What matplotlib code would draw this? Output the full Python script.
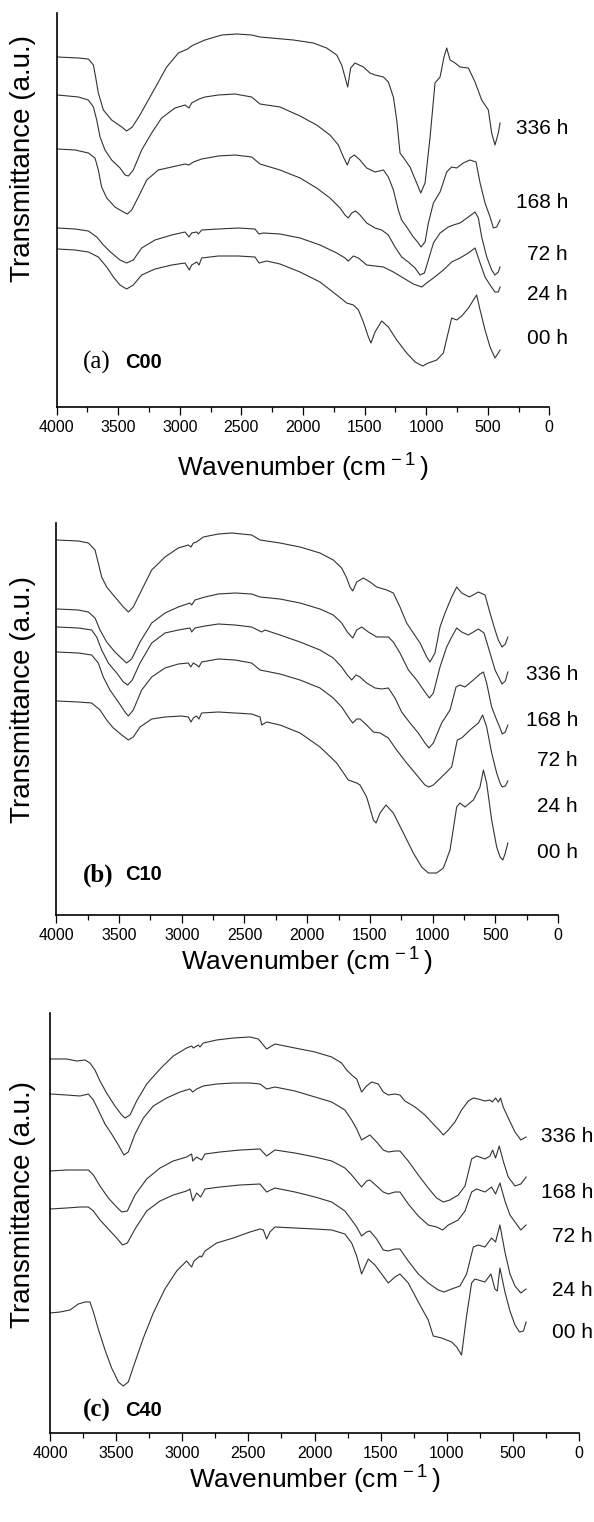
import matplotlib
matplotlib.use("Agg")
import matplotlib.pyplot as plt
from matplotlib.ticker import MultipleLocator

plt.rcParams['font.family'] = ['Liberation Sans', 'DejaVu Sans']
plt.rcParams['mathtext.fontset'] = 'custom'
plt.rcParams['mathtext.rm'] = 'Liberation Sans'
plt.rcParams['mathtext.it'] = 'Liberation Sans:italic'

HOURS = ['336 h', '168 h', '72 h', '24 h', '00 h']

# ---- (a) C00 ----
wn_a336 = [3992, 3824, 3743, 3702, 3684, 3662, 3621, 3554, 3472, 3432, 3386, 3324, 3256, 3188, 3107, 3012, 2936, 2917,
           2890, 2796, 2660, 2538, 2417, 2349, 2078, 1916, 1808, 1726, 1686, 1659, 1637, 1613, 1578, 1510, 1456, 1415,
           1347, 1307, 1266, 1239, 1212, 1171, 1131, 1077, 1044, 1009, 968, 928, 887, 855, 833, 806, 765, 725, 657,
           603, 549, 495, 468, 441, 414, 400]
t_a336 = [350, 349, 348, 342, 330, 314, 297, 287, 280, 276, 280, 292, 307, 322, 340, 354, 358, 360, 362, 367, 372, 373,
          372, 370, 367, 364, 359, 352, 342, 330, 320, 339, 344, 340, 334, 332, 330, 325, 310, 287, 254, 247, 240, 224,
          214, 224, 270, 324, 330, 350, 359, 347, 344, 340, 339, 325, 307, 297, 274, 262, 274, 284]
wn_a168 = [3992, 3824, 3743, 3702, 3675, 3648, 3608, 3554, 3486, 3445, 3418, 3378, 3310, 3229, 3148, 3039, 2958, 2926,
           2904, 2844, 2796, 2687, 2552, 2417, 2349, 2187, 2024, 1889, 1781, 1713, 1672, 1640, 1618, 1583, 1537, 1483,
           1415, 1347, 1307, 1266, 1226, 1199, 1158, 1104, 1063, 1042, 1009, 982, 941, 887, 833, 793, 752, 698, 644,
           595, 562, 522, 481, 454, 427, 400]
t_a168 = [312, 310, 307, 300, 287, 270, 257, 247, 239, 232, 231, 237, 257, 274, 289, 299, 302, 299, 304, 308, 310, 312,
          313, 310, 303, 300, 291, 282, 272, 262, 250, 242, 249, 252, 247, 239, 235, 237, 230, 217, 197, 187, 180, 170,
          164, 160, 165, 184, 204, 215, 235, 240, 239, 244, 247, 245, 224, 204, 190, 179, 180, 187]
wn_a72 = [3992, 3851, 3743, 3689, 3662, 3635, 3594, 3527, 3459, 3426, 3391, 3337, 3269, 3175, 3066, 2958, 2926, 2890,
          2823, 2687, 2552, 2417, 2349, 2187, 2024, 1889, 1781, 1699, 1659, 1632, 1605, 1572, 1537, 1483, 1415, 1361,
          1307, 1253, 1199, 1145, 1090, 1050, 1014, 982, 941, 887, 820, 779, 725, 657, 603, 576, 549, 508, 468, 441,
          414, 400]
t_a72 = [258, 257, 254, 249, 237, 220, 209, 200, 195, 193, 197, 210, 227, 237, 240, 243, 242, 245, 248, 251, 252, 250,
         243, 237, 229, 219, 209, 199, 192, 189, 194, 196, 192, 184, 179, 177, 172, 160, 150, 145, 139, 132, 134, 147,
         164, 174, 180, 182, 184, 190, 195, 189, 170, 150, 137, 132, 135, 140]
wn_a24 = [3992, 3851, 3743, 3675, 3621, 3554, 3486, 3432, 3378, 3310, 3202, 3066, 2958, 2926, 2904, 2863, 2850, 2823,
          2687, 2525, 2390, 2357, 2322, 2187, 2024, 1862, 1726, 1659, 1632, 1591, 1550, 1483, 1415, 1347, 1266, 1185,
          1104, 1036, 996, 941, 860, 793, 725, 657, 603, 562, 522, 481, 441, 414, 400]
t_a24 = [179, 178, 176, 170, 162, 154, 147, 144, 147, 159, 167, 172, 175, 170, 174, 175, 173, 177, 178, 179, 178, 173,
         174, 173, 169, 162, 154, 149, 146, 151, 149, 142, 141, 140, 135, 129, 123, 120, 124, 129, 137, 145, 149, 154,
         159, 144, 130, 122, 115, 115, 120]
wn_a00 = [3992, 3851, 3743, 3662, 3594, 3540, 3486, 3432, 3378, 3310, 3202, 3066, 2958, 2923, 2904, 2863, 2844, 2823,
          2687, 2525, 2390, 2357, 2295, 2187, 2024, 1862, 1726, 1645, 1591, 1550, 1510, 1469, 1448, 1415, 1361, 1307,
          1239, 1158, 1090, 1028, 982, 914, 860, 793, 752, 711, 657, 590, 562, 522, 481, 441, 414, 400]
t_a00 = [158, 157, 155, 150, 140, 130, 122, 118, 122, 132, 138, 142, 144, 137, 142, 145, 142, 149, 151, 151, 150, 144,
         146, 143, 135, 125, 112, 104, 102, 97, 85, 70, 64, 75, 86, 80, 67, 54, 45, 41, 44, 47, 54, 89, 87, 91, 99,
         112, 97, 77, 60, 49, 54, 57]

# ---- (b) C10 ----
wn_b336 = [3995, 3825, 3745, 3692, 3666, 3639, 3599, 3533, 3466, 3426, 3387, 3320, 3240, 3134, 3028, 2948, 2927, 2908,
           2882, 2828, 2709, 2602, 2443, 2376, 2217, 2057, 1898, 1792, 1725, 1685, 1659, 1637, 1605, 1552, 1499, 1446,
           1366, 1313, 1260, 1207, 1154, 1100, 1047, 1021, 981, 941, 901, 848, 808, 768, 707, 635, 582, 542, 502, 476,
           447, 420, 400]
t_b336 = [375, 374, 372, 365, 352, 338, 328, 318, 308, 303, 308, 325, 345, 358, 367, 370, 368, 372, 373, 378, 381, 382,
          380, 375, 372, 368, 362, 355, 347, 337, 328, 324, 333, 337, 333, 328, 325, 322, 308, 292, 282, 272, 258, 253,
          262, 288, 302, 318, 328, 322, 318, 323, 320, 302, 285, 275, 268, 271, 278]
wn_b168 = [3995, 3825, 3745, 3692, 3652, 3599, 3533, 3466, 3440, 3400, 3333, 3240, 3134, 3028, 2935, 2921, 2895, 2815,
           2709, 2576, 2443, 2376, 2217, 2057, 1898, 1792, 1725, 1680, 1637, 1605, 1566, 1512, 1446, 1393, 1353, 1313,
           1260, 1193, 1127, 1061, 1026, 994, 941, 888, 848, 808, 768, 715, 675, 635, 590, 542, 502, 462, 447, 420, 400]
t_b168 = [306, 305, 303, 297, 285, 273, 263, 255, 252, 256, 273, 292, 302, 308, 312, 310, 315, 318, 321, 322, 321, 318,
          316, 312, 306, 300, 292, 283, 277, 285, 288, 283, 278, 278, 278, 273, 262, 245, 235, 223, 217, 222, 248, 268,
          278, 287, 283, 280, 283, 286, 282, 262, 245, 235, 231, 234, 243]
wn_b72 = [3995, 3825, 3719, 3679, 3639, 3586, 3519, 3466, 3432, 3395, 3333, 3240, 3134, 3028, 2935, 2921, 2895, 2815,
          2709, 2576, 2443, 2363, 2337, 2217, 2057, 1898, 1792, 1725, 1680, 1645, 1611, 1579, 1526, 1459, 1406, 1353,
          1300, 1247, 1180, 1114, 1061, 1029, 994, 928, 861, 813, 782, 742, 675, 622, 595, 569, 529, 489, 462, 445,
          420, 400]
t_b72 = [288, 287, 285, 278, 265, 252, 242, 233, 230, 235, 252, 272, 282, 285, 287, 283, 287, 289, 291, 290, 288, 283,
         285, 280, 273, 265, 257, 248, 240, 235, 240, 238, 232, 227, 226, 227, 217, 203, 192, 182, 172, 167, 172, 192,
         205, 228, 230, 228, 235, 241, 243, 232, 208, 195, 187, 181, 183, 190]
wn_b24 = [3995, 3825, 3719, 3666, 3626, 3573, 3506, 3453, 3426, 3387, 3320, 3240, 3134, 3028, 2948, 2929, 2908, 2882,
          2863, 2842, 2709, 2576, 2443, 2376, 2217, 2057, 1898, 1792, 1725, 1672, 1637, 1605, 1579, 1526, 1472, 1419,
          1353, 1287, 1207, 1127, 1061, 1029, 994, 928, 848, 803, 768, 702, 635, 601, 569, 529, 489, 462, 445, 420, 400]
t_b24 = [263, 262, 260, 252, 238, 225, 213, 203, 199, 205, 225, 238, 247, 251, 252, 248, 252, 250, 248, 253, 256, 255,
         252, 245, 241, 235, 227, 217, 208, 198, 192, 196, 196, 190, 183, 182, 177, 165, 152, 140, 130, 128, 130, 138,
         148, 175, 177, 185, 192, 200, 188, 162, 142, 132, 128, 129, 134]
wn_b00 = [3995, 3825, 3719, 3652, 3599, 3546, 3479, 3426, 3387, 3333, 3240, 3134, 3001, 2948, 2927, 2908, 2882, 2863,
          2842, 2709, 2576, 2443, 2376, 2363, 2323, 2217, 2057, 1898, 1765, 1672, 1605, 1579, 1526, 1472, 1451, 1419,
          1372, 1313, 1233, 1154, 1087, 1034, 968, 914, 861, 808, 782, 742, 675, 622, 595, 569, 529, 489, 462, 440,
          420, 400]
t_b00 = [214, 213, 212, 205, 195, 187, 180, 175, 178, 188, 196, 198, 199, 198, 193, 197, 199, 196, 202, 203, 202, 201,
         198, 190, 193, 190, 182, 168, 152, 135, 132, 130, 118, 95, 92, 102, 110, 102, 82, 62, 48, 42, 42, 47, 65, 108,
         112, 108, 115, 128, 145, 132, 95, 68, 58, 55, 62, 72]

# ---- (c) C40 ----
wn_c336 = [4000, 3874, 3798, 3735, 3698, 3660, 3622, 3572, 3509, 3458, 3433, 3395, 3345, 3269, 3168, 3068, 2967, 2929,
           2916, 2879, 2866, 2841, 2740, 2614, 2488, 2425, 2362, 2299, 2148, 1996, 1870, 1795, 1757, 1719, 1681, 1644,
           1606, 1568, 1518, 1480, 1442, 1392, 1354, 1316, 1240, 1165, 1102, 1051, 1026, 988, 938, 888, 837, 799, 762,
           711, 673, 656, 631, 610, 593, 573, 535, 484, 440, 400]
t_c336 = [374, 374, 372, 373, 370, 363, 352, 340, 327, 318, 315, 318, 332, 349, 364, 377, 385, 387, 385, 388, 386, 390,
          393, 395, 396, 394, 384, 389, 385, 381, 376, 370, 363, 358, 354, 341, 347, 351, 349, 341, 338, 339, 338, 332,
          326, 318, 309, 302, 298, 303, 311, 323, 332, 335, 334, 332, 333, 331, 335, 331, 335, 326, 315, 301, 293, 296]
wn_c168 = [4000, 3874, 3773, 3710, 3672, 3635, 3584, 3534, 3483, 3441, 3408, 3357, 3294, 3219, 3118, 3017, 2942, 2921,
           2891, 2841, 2740, 2614, 2488, 2412, 2362, 2299, 2148, 1996, 1870, 1770, 1719, 1681, 1644, 1606, 1581, 1530,
           1480, 1442, 1392, 1354, 1291, 1215, 1140, 1077, 1026, 976, 913, 862, 812, 774, 711, 673, 653, 631, 603, 573,
           535, 484, 440, 400]
t_c168 = [339, 338, 337, 339, 333, 323, 309, 299, 288, 278, 281, 299, 315, 327, 335, 341, 344, 341, 344, 347, 349, 350,
          350, 349, 344, 346, 342, 336, 331, 323, 313, 304, 293, 296, 298, 291, 283, 281, 282, 282, 272, 258, 245, 235,
          231, 233, 238, 247, 274, 277, 274, 277, 283, 275, 287, 272, 256, 247, 249, 256]
wn_c72 = [4000, 3874, 3773, 3710, 3672, 3622, 3559, 3496, 3458, 3415, 3357, 3269, 3168, 3068, 2967, 2929, 2921, 2891,
          2853, 2828, 2715, 2563, 2412, 2362, 2299, 2148, 1996, 1870, 1770, 1719, 1681, 1644, 1606, 1581, 1530, 1480,
          1442, 1392, 1354, 1291, 1215, 1140, 1077, 1031, 988, 913, 862, 812, 774, 711, 661, 631, 598, 560, 522, 484,
          440, 400]
t_c72 = [262, 263, 263, 263, 258, 247, 235, 226, 221, 222, 238, 254, 265, 272, 276, 279, 272, 276, 273, 279, 281, 283,
         284, 277, 283, 280, 276, 272, 265, 258, 252, 246, 252, 253, 247, 241, 239, 241, 241, 229, 217, 208, 206, 203,
         208, 213, 222, 241, 244, 241, 246, 239, 250, 232, 218, 211, 203, 208]
wn_c24 = [4000, 3874, 3773, 3710, 3672, 3622, 3559, 3496, 3451, 3415, 3357, 3269, 3168, 3068, 2967, 2942, 2921, 2891,
          2861, 2828, 2715, 2563, 2412, 2362, 2299, 2148, 1996, 1870, 1770, 1719, 1681, 1644, 1606, 1581, 1530, 1480,
          1442, 1392, 1354, 1291, 1215, 1140, 1064, 1021, 963, 900, 850, 799, 762, 711, 661, 631, 598, 560, 522, 484,
          440, 400]
t_c24 = [224, 225, 226, 226, 222, 213, 204, 195, 188, 190, 204, 222, 232, 238, 242, 244, 232, 240, 236, 244, 246, 248,
         249, 241, 245, 241, 236, 231, 222, 213, 206, 197, 201, 202, 194, 183, 182, 184, 184, 172, 159, 150, 143, 141,
         144, 147, 159, 186, 188, 186, 195, 191, 208, 181, 159, 147, 140, 144]
wn_c00 = [4000, 3924, 3849, 3786, 3735, 3698, 3672, 3635, 3584, 3534, 3483, 3446, 3408, 3357, 3294, 3219, 3131, 3042,
          2967, 2929, 2911, 2866, 2853, 2828, 2740, 2614, 2488, 2412, 2387, 2362, 2337, 2299, 2148, 1996, 1870, 1770,
          1719, 1681, 1644, 1593, 1543, 1492, 1442, 1392, 1354, 1291, 1215, 1140, 1102, 1039, 963, 925, 888, 850, 812,
          787, 711, 666, 636, 618, 598, 560, 522, 484, 450, 420, 400]
t_c00 = [120, 121, 123, 129, 131, 131, 121, 104, 83, 65, 51, 47, 51, 71, 95, 120, 144, 162, 172, 166, 172, 177, 176, 182,
         190, 195, 201, 204, 203, 194, 201, 206, 205, 204, 203, 199, 190, 177, 159, 174, 168, 159, 150, 156, 159, 150,
         131, 113, 97, 95, 91, 86, 78, 117, 150, 154, 151, 159, 144, 142, 165, 141, 122, 108, 101, 102, 111]

W, H = 594, 1522
fig = plt.figure(figsize=(W / 100, H / 100), dpi=100)


def px_axes(x0, x1, y0, y1):
    return fig.add_axes([x0 / W, 1 - y1 / H, (x1 - x0) / W, (y1 - y0) / H])


def px_text(x, y, s, **kw):
    fig.text(x / W, 1 - y / H, s, **kw)


panels = [
    # axes box (px), curves, tag, name, tag weight, label x, label ys, ylabel y, xlabel y, tag y
    ((56.7, 549.3, 12.7, 407), [(wn_a336, t_a336), (wn_a168, t_a168), (wn_a72, t_a72), (wn_a24, t_a24), (wn_a00, t_a00)],
     '(a)', 'C00', 'normal', 568, [129, 202, 255, 295, 338], 159, 468, 362),
    ((56.4, 558, 522.7, 915), [(wn_b336, t_b336), (wn_b168, t_b168), (wn_b72, t_b72), (wn_b24, t_b24), (wn_b00, t_b00)],
     '(b)', 'C10', 'bold', 578, [675, 720, 760, 807, 852], 700, 962, 875),
    ((50, 579, 1013, 1433), [(wn_c336, t_c336), (wn_c168, t_c168), (wn_c72, t_c72), (wn_c24, t_c24), (wn_c00, t_c00)],
     '(c)', 'C40', 'bold', 593, [1137, 1193, 1237, 1290, 1333], 1204, 1480, 1410),
]

for box, curves, tag, name, tag_w, lab_x, lab_ys, ylab_y, xlab_y, tag_y in panels:
    x0, x1, y0, y1 = box
    ax = px_axes(x0, x1, y0, y1)
    for wn, t in curves:
        ax.plot(wn, t, color='#333333', lw=0.8)
    ax.set_xlim(4000, 0)
    ax.set_ylim(0, y1 - y0)
    ax.xaxis.set_major_locator(MultipleLocator(500))
    ax.xaxis.set_minor_locator(MultipleLocator(250))
    ax.tick_params(axis='x', which='major', direction='out', length=5.5, width=0.9, labelsize=11.5, pad=4)
    ax.tick_params(axis='x', which='minor', direction='out', length=3.6, width=0.9)
    ax.set_yticks([])
    for s in ['top', 'right']:
        ax.spines[s].set_visible(False)
    for s in ['left', 'bottom']:
        ax.spines[s].set_linewidth(1.2)

    for lab, ly in zip(HOURS, lab_ys):
        px_text(lab_x, ly, lab, ha='right', va='center', fontsize=15)
    px_text(23, ylab_y, 'Transmittance (a.u.)', rotation=90, ha='center', va='center', fontsize=20)
    px_text((x0 + x1) / 2, xlab_y, r'Wavenumber (cm$^{\,-1}\,$)', ha='center', va='center', fontsize=19)
    px_text(83, tag_y, tag, ha='left', va='center', fontsize=18, family='Liberation Serif', fontweight=tag_w)
    px_text(125, tag_y, name, ha='left', va='center', fontsize=14.5, fontweight='bold')

fig.savefig('out.png', dpi=100)
